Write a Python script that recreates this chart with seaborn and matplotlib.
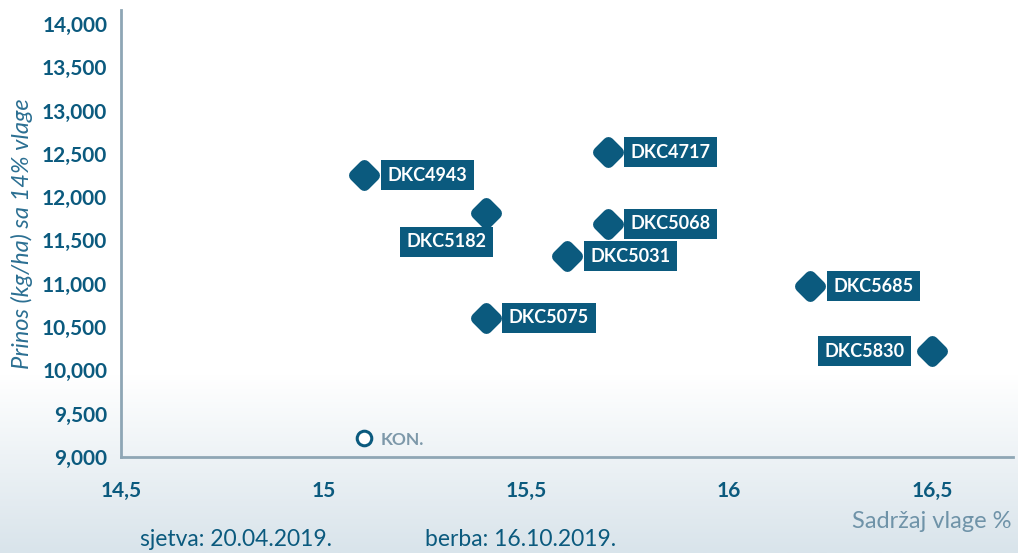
import numpy as np
import pandas as pd
import matplotlib
matplotlib.use("Agg")
import matplotlib.pyplot as plt
from matplotlib.markers import MarkerStyle
import seaborn as sns

# data ---------------------------------------------------------------
hybrids = ["DKC4943", "DKC5182", "DKC4717", "DKC5068", "DKC5031",
           "DKC5075", "DKC5685", "DKC5830"]
moisture = [15.1, 15.4, 15.7, 15.7, 15.6, 15.4, 16.2, 16.5]
yields = [12250, 11820, 12520, 11690, 11320, 10610, 10970, 10220]
kon_moisture = [15.1]
kon_yield = [9220]
kon_label = "KON."

x_ticks = [14.5, 15, 15.5, 16, 16.5]
x_tick_labels = ["14,5", "15", "15,5", "16", "16,5"]
y_ticks = [9000, 9500, 10000, 10500, 11000, 11500, 12000, 12500, 13000, 13500, 14000]
y_tick_labels = ["9,000", "9,500", "10,000", "10,500", "11,000", "11,500",
                 "12,000", "12,500", "13,000", "13,500", "14,000"]

# label position: offset in pixels from the point, alignment
label_pos = {
    "DKC5182": (8 - 7, -29, "right"),
    "DKC5830": (-20 - 7, 0, "right"),
}

df = pd.DataFrame({"hibrid": hybrids, "vlaga": moisture, "prinos": yields})

DARK = "#0b5a7e"
AXC = "#8ea6b5"

sns.set_theme(style="white")
plt.rcParams["font.family"] = ["Lato", "DejaVu Sans"]

fig = plt.figure(figsize=(10.18, 5.53), dpi=100)

# background gradient towards the bottom
bg = fig.add_axes([0, 0, 1, 1], zorder=-10)
grad = np.linspace(0, 1, 256).reshape(-1, 1)
grad = np.clip(grad / 0.32, 0, 1)  # 0 at bottom -> 1 at ~y=380
top_c = np.array([1.0, 1.0, 1.0])
bot_c = np.array([0xd9, 0xe4, 0xeb]) / 255
img = bot_c + (top_c - bot_c) * grad[..., None]
bg.imshow(img, aspect="auto", origin="lower", extent=[0, 1, 0, 1])
bg.axis("off")

ax = fig.add_axes([121 / 1018, 1 - 457 / 553, (1013 - 121) / 1018, (457 - 10) / 553])
ax.patch.set_alpha(0)

# rounded diamonds: thick edge with round joins
diamond = MarkerStyle("D", joinstyle="round")
sns.scatterplot(data=df, x="vlaga", y="prinos", ax=ax, marker=diamond, s=95,
                color=DARK, edgecolor=DARK, linewidth=8.5, zorder=3, clip_on=False)
sns.scatterplot(x=kon_moisture, y=kon_yield, ax=ax, marker="o", s=110,
                facecolor="white", edgecolor=DARK, linewidth=2.2, zorder=3)

for name, xv, yv in zip(hybrids, moisture, yields):
    dx, dy, ha = label_pos.get(name, (23, 0, "left"))
    ax.annotate(name, (xv, yv), xytext=(dx, dy), textcoords="offset pixels",
                ha=ha, va="center", color="white", fontsize=13, fontweight="bold",
                bbox=dict(boxstyle="square,pad=0.36", fc=DARK, ec="none"), zorder=4)

ax.annotate(kon_label, (kon_moisture[0], kon_yield[0]), xytext=(16, -2),
            textcoords="offset pixels", ha="left", va="center",
            color="#7d98a9", fontsize=12.5, fontweight="bold")

ax.set_xlim(14.5, 16.7)
ax.set_ylim(9000, 14160)
ax.set_xticks(x_ticks)
ax.set_xticklabels(x_tick_labels)
ax.set_yticks(y_ticks)
ax.set_yticklabels(y_tick_labels)
ax.tick_params(axis="both", colors=AXC, length=6, width=1.2, direction="out",
               labelcolor=DARK, labelsize=15)
ax.tick_params(axis="x", pad=11)
ax.tick_params(axis="y", pad=4)
for lab in ax.get_xticklabels() + ax.get_yticklabels():
    lab.set_fontweight("bold")

sns.despine(ax=ax)
for side in ["left", "bottom"]:
    ax.spines[side].set_color(AXC)
    ax.spines[side].set_linewidth(2)

ax.set_xlabel("")
ax.set_ylabel("Prinos (kg/ha) sa 14% vlage", fontsize=17, style="italic",
              color="#2b6f92", labelpad=6)

fig.text(1012 / 1018, 1 - 521 / 553, "Sadržaj vlage %", ha="right", va="center",
         fontsize=17, color="#6f93a8")
fig.text(140 / 1018, 1 - 540 / 553, "sjetva: 20.04.2019.", ha="left", va="center",
         fontsize=16.5, color=DARK)
fig.text(425 / 1018, 1 - 540 / 553, "berba: 16.10.2019.", ha="left", va="center",
         fontsize=16.5, color=DARK)

fig.savefig("out.png", dpi=100)
